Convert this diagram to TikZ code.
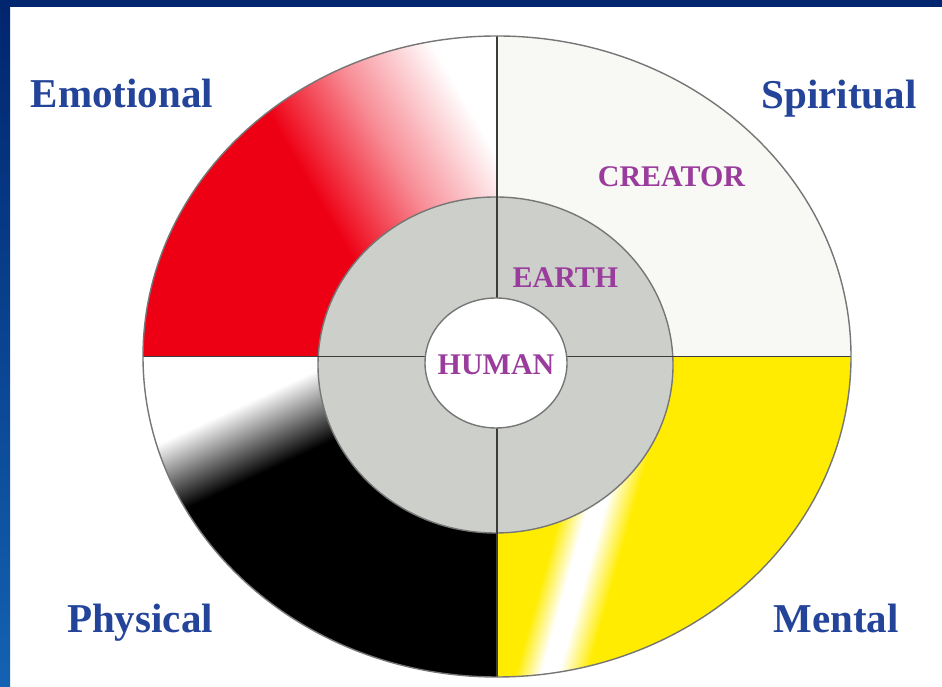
\documentclass[tikz,border=0pt]{standalone}
\usepackage{fontspec}
\setmainfont{Liberation Serif}
\usetikzlibrary{calc}
\definecolor{Navy}{HTML}{00266F}
\definecolor{NavyLight}{HTML}{1462B2}
\definecolor{Rim}{HTML}{767676}
\definecolor{Axis}{HTML}{3C3C3C}
\definecolor{EarthGrey}{HTML}{CDD0CA}
\definecolor{SkyWhite}{HTML}{F8F8F4}
\definecolor{FireRed}{HTML}{EE0014}
\definecolor{SunYellow}{HTML}{FFEC00}
\definecolor{LabelBlue}{HTML}{24449A}
\definecolor{RingPurple}{HTML}{9A3C9C}
\pgfdeclarehorizontalshading{redfade}{100bp}{color(0bp)=(FireRed); color(43.8bp)=(FireRed); color(50bp)=(FireRed!45!white); color(56.5bp)=(white); color(100bp)=(white)}
\pgfdeclarehorizontalshading{nightfade}{100bp}{color(0bp)=(white); color(47.6bp)=(white); color(52.6bp)=(black); color(100bp)=(black)}
\pgfdeclarehorizontalshading{sunstreak}{100bp}{color(0bp)=(SunYellow); color(47.5bp)=(SunYellow); color(49.3bp)=(white); color(50.5bp)=(white); color(52.5bp)=(SunYellow); color(100bp)=(SunYellow)}
\tikzset{
  rim/.style={draw=Rim,line width=1.4pt},
  axisline/.style={draw=Axis,line width=1.1pt},
  quadlabel/.style={font=\fontsize{41}{48}\selectfont\bfseries,text=LabelBlue,inner sep=0pt,anchor=base},
  ringlabel/.style={font=\fontsize{30}{35}\selectfont\bfseries,text=RingPurple,inner sep=0pt,anchor=base}
}

\begin{document}
\begin{tikzpicture}[x=1pt,y=1pt]
  \useasboundingbox (0,0) rectangle (942,687);
  \fill[white] (0,0) rectangle (942,687);
  \fill[Navy] (0,680) rectangle (942,687);
  \shade[top color=Navy,bottom color=NavyLight] (0,0) rectangle (10,680);

  \coordinate (hub) at (497,330.5);
  \begin{scope}
    \clip (hub) -- (143,330.5) arc[start angle=180,end angle=90,x radius=354,y radius=320.5] -- cycle;
    \shade[shading=redfade,shading angle=30] (45,177) rectangle (745,877);
  \end{scope}
  \fill[SkyWhite] (hub) -- (497,651) arc[start angle=90,end angle=0,x radius=354,y radius=320.5] -- cycle;
  \begin{scope}
    \clip (hub) -- (851,330.5) arc[start angle=0,end angle=-90,x radius=354,y radius=320.5] -- cycle;
    \shade[shading=sunstreak,shading angle=-15.6] (225,-251) rectangle (925,449);
  \end{scope}
  \begin{scope}
    \clip (hub) -- (497,10) arc[start angle=270,end angle=180,x radius=354,y radius=320.5] -- cycle;
    \shade[shading=nightfade,shading angle=-65] (-104,-103) rectangle (596,597);
  \end{scope}

  \filldraw[rim,fill=EarthGrey] (495.5,322) ellipse[x radius=177.5,y radius=168];
  \draw[axisline] (497,651) -- (497,10);
  \draw[axisline] (143,330.5) -- (851,330.5);
  \filldraw[rim,fill=white] (496,324) ellipse[x radius=71,y radius=65];
  \draw[rim] (hub) ellipse[x radius=354,y radius=320.5];

  \node[quadlabel] (emotional) at (122,579) {Emotional};
  \node[quadlabel] (spiritual) at (839,578) {Spiritual};
  \node[quadlabel] (physical) at (140,54) {Physical};
  \node[quadlabel] (mental) at (836,54) {Mental};
  \node[ringlabel] (creator) at (671.5,500) {CREATOR};
  \node[ringlabel] (earth) at (565.5,399) {EARTH};
  \node[ringlabel] (human) at (496,312) {HUMAN};
\end{tikzpicture}
\end{document}
